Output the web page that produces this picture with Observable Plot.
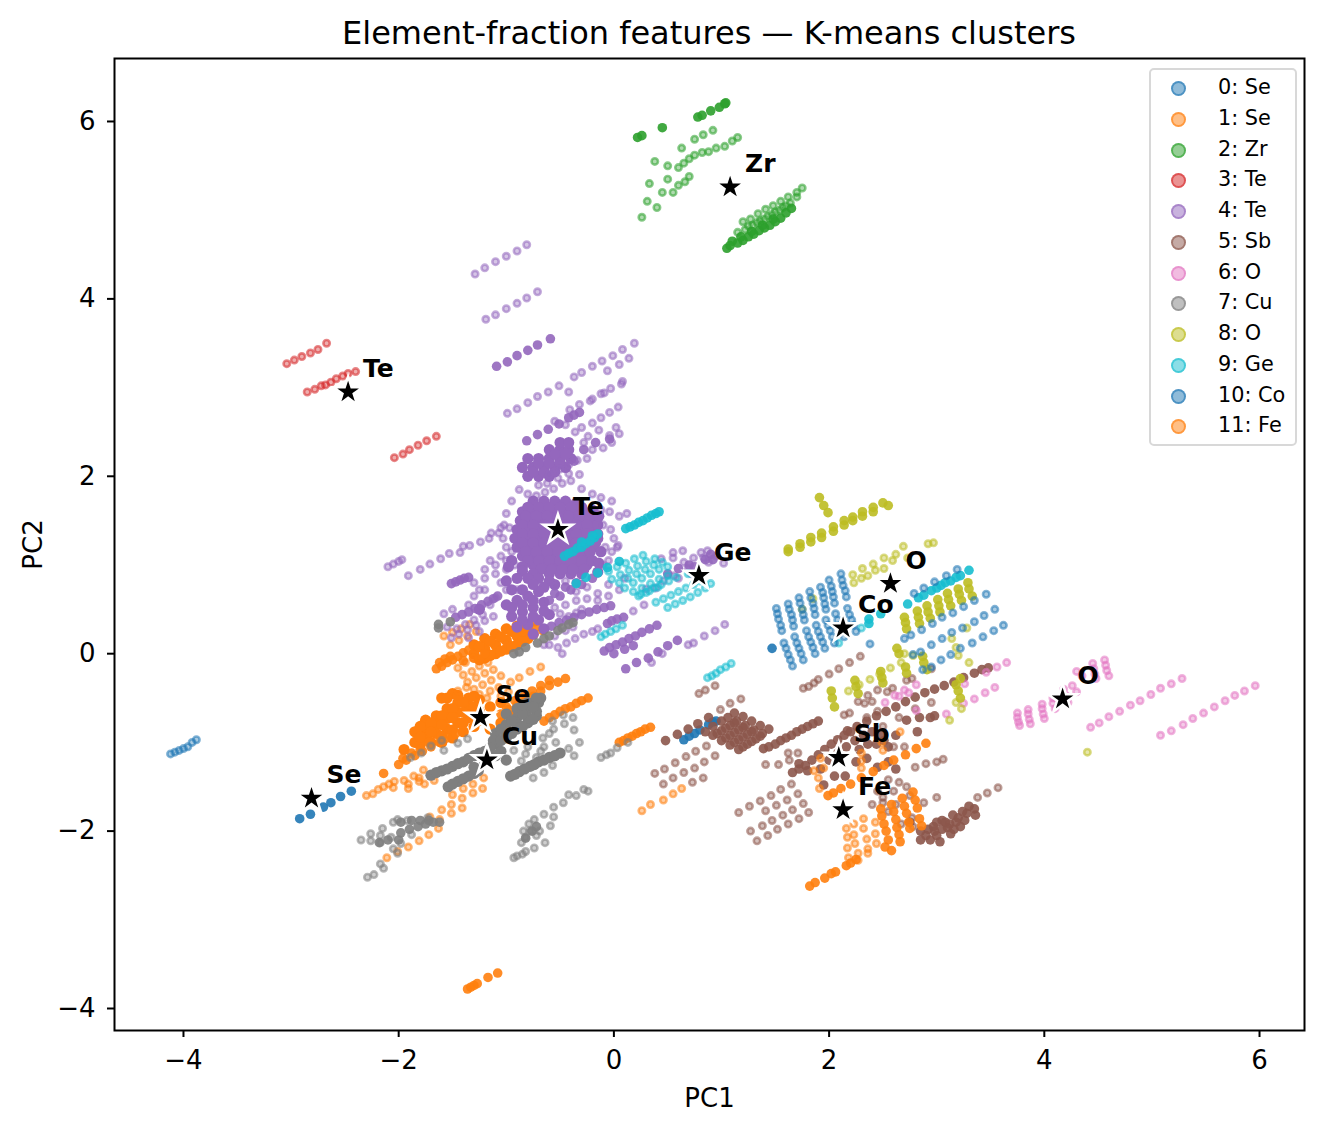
<!DOCTYPE html>
<html><head><meta charset="utf-8">
<script src="https://cdn.jsdelivr.net/npm/d3@7"></script>
<script src="https://cdn.jsdelivr.net/npm/@observablehq/plot@0.6"></script>
<style>
html,body{margin:0;padding:0;background:#fff;overflow:hidden;font-family:"DejaVu Sans",sans-serif}
#wrap{position:relative;width:1324px;height:1132px}
#title{position:absolute;left:114px;width:1190px;top:15px;text-align:center;font-size:32px;line-height:36px;color:#000}
#legend{position:absolute;left:1149px;top:68px;width:144px;height:374px;border:2px solid #d8d8d8;border-radius:5px;background:rgba(255,255,255,.8);box-sizing:content-box}
.row{position:absolute;left:0;height:30px;font-size:20.8px;line-height:30px;color:#000;white-space:nowrap}
.sw{position:absolute;left:20px;top:8px;width:11px;height:11px;border-radius:50%;border:2px solid}
.lb{position:absolute;left:67px;top:-1px}
svg{display:block}
</style></head><body><div id="wrap"><div id="title"></div><div id="legend"></div><div id="plot"></div></div>
<script>
const titleText="Element-fraction features — K-means clusters";
const xLabel="PC1", yLabel="PC2";
const tickX=[-4,-2,0,2,4,6], tickY=[-4,-2,0,2,4,6];
const colors=["#1f77b4","#ff7f0e","#2ca02c","#d62728","#9467bd","#8c564b","#e377c2","#7f7f7f","#bcbd22","#17becf","#1f77b4","#ff7f0e"];
const legendLabels=["0: Se","1: Se","2: Zr","3: Te","4: Te","5: Sb","6: O","7: Cu","8: O","9: Ge","10: Co","11: Fe"];
const centerNames=["Se","Se","Zr","Te","Te","Sb","O","Cu","O","Ge","Co","Fe"];
const centerX=[-2.81,-1.24,1.08,-2.47,-0.52,2.09,4.17,-1.18,2.57,0.79,2.13,2.13];
const centerY=[-1.63,-0.72,5.26,2.95,1.40,-1.17,-0.51,-1.20,0.79,0.88,0.29,-1.76];

const light0=[-4.12,-1.13,-4.08,-1.11,-4.04,-1.09,-4.0,-1.07,-3.96,-1.05,-3.92,-1.0,-3.88,-0.97];
const solid0=[-2.92,-1.86,-2.82,-1.81,-2.7,-1.73,-2.63,-1.68,-2.54,-1.61,-2.44,-1.55,0.65,-0.97,0.7,-0.93,0.75,-0.9,0.8,-0.86,0.88,-0.8,0.92,-0.77,0.95,-0.76];

const light1=[-2.3,-1.6,-2.24,-1.58,-2.19,-1.53,-2.14,-1.5,-2.09,-1.47,-2.04,-1.44,-2.05,-1.51,-1.95,-1.43,-1.91,-1.47,-1.91,-1.52,-1.86,-1.38,-1.81,-1.4,-1.81,-1.44,-1.76,-1.47,-1.77,-1.31,-1.67,-1.43,-1.5,-1.59,-1.4,-1.52,-1.31,-1.47,-1.31,-1.57,-1.41,-1.63,-1.51,-1.7,-1.6,-1.76,-1.41,-1.74,-1.51,-1.8,-1.62,-1.87,-1.71,-1.84,-1.63,-1.97,-1.72,-2.04,-1.81,-2.11,-1.91,-2.18,-2.01,-2.23,-2.11,-2.3,-1.21,-1.4,-1.22,-1.52,-1.45,-0.16,-1.38,-0.1,-1.31,-0.05,-1.4,-0.24,-1.32,-0.2,-1.25,-0.14,-1.17,-0.1,-1.36,-0.32,-1.28,-0.27,-1.2,-0.22,-1.12,-0.18,-1.3,-0.4,-1.22,-0.35,-1.14,-0.3,-1.05,-0.25,-1.45,-0.42,-1.37,-0.38,-1.15,-0.42,-1.07,-0.38,-0.96,-0.32,-0.88,-0.27,-0.78,-0.2,-0.68,-0.15,-1.58,0.2,-1.5,0.24,-1.42,0.28,-1.34,0.33,-1.52,0.1,-1.44,0.15,-1.36,0.2,-1.28,0.25,-1.25,-0.46,-1.18,-0.5,-1.05,-0.48,-0.98,-0.43];
const solid1=[-2.14,-1.35,-2.0,-1.25,-1.93,-1.2,-1.85,-1.15,-1.78,-1.1,-1.7,-1.05,-1.62,-1.0,-1.55,-0.95,-1.47,-0.9,-1.4,-0.87,-1.96,-1.18,-1.88,-1.12,-1.8,-1.08,-1.72,-1.0,-1.65,-0.17,-1.6,-0.14,-1.55,-0.1,-1.5,-0.07,-1.45,-0.03,-1.4,0.01,-1.35,0.04,-1.62,-0.1,-1.57,-0.06,-1.52,-0.03,-1.05,-0.68,-0.98,-0.63,-0.9,-0.58,-0.82,-0.53,-0.75,-0.48,-0.68,-0.42,-0.6,-0.36,-0.52,-0.32,-0.45,-0.28,-1.0,-0.6,-0.92,-0.53,-0.84,-0.48,-0.76,-0.42,-0.68,-0.36,-0.6,-0.3,-0.65,-0.76,-0.6,-0.72,-0.55,-0.69,-0.5,-0.65,-0.45,-0.62,-0.4,-0.6,-0.35,-0.56,-0.3,-0.53,-0.24,-0.5,0.05,-1.0,0.09,-0.98,0.13,-0.95,0.17,-0.93,0.21,-0.9,0.25,-0.88,0.29,-0.85,0.34,-0.83,-1.36,-3.78,-1.33,-3.76,-1.3,-3.74,-1.27,-3.72,-1.17,-3.65,-1.08,-3.6,-1.4,-0.08,-1.3,-0.05,-1.2,0.0,-0.72,0.3,-0.66,0.26,-0.74,0.36];
const mass1=[-1.3,0,-1.2,0.05,-1.1,0.1,-1.0,0.15,-0.9,0.2,-0.8,0.27,-1.2,-0.05,-1.1,0,-1.0,0.05,-0.9,0.1,-0.8,0.17,-1.3,0.1,-1.2,0.17,-1.1,0.22,-1.0,0.28,-0.9,0.31,-1.75,-0.75,-1.65,-0.7,-1.55,-0.62,-1.45,-0.55,-1.35,-0.5,-1.85,-0.88,-1.75,-0.85,-1.65,-0.8,-1.55,-0.73,-1.45,-0.66,-1.35,-0.6,-1.25,-0.52,-1.85,-1.0,-1.75,-0.95,-1.65,-0.9,-1.55,-0.85,-1.45,-0.78,-1.35,-0.72,-1.25,-0.65,-1.6,-1.0,-1.5,-0.95,-1.4,-0.88,-1.3,-0.82,-1.25,-0.75,-1.6,-0.5,-1.5,-0.45,-1.15,-0.85,-1.05,-0.78,-0.95,-0.7,-0.85,-0.64,-1.95,-1.08,-1.8,-1.03,-1.15,-0.6,-1.05,-0.55,-1.8,-0.82,-1.7,-0.78,-1.6,-0.7,-1.5,-0.62,-1.4,-0.55,-1.3,-0.48,-1.8,-0.94,-1.7,-0.88,-1.6,-0.8,-1.5,-0.72,-1.4,-0.66,-1.3,-0.6,-1.7,-1.0,-1.6,-0.93,-1.5,-0.86,-1.4,-0.78,-1.3,-0.7,-1.55,-0.5,-1.45,-0.47,-1.25,-0.07,-1.15,-0.02,-1.05,0.03,-0.95,0.08,-0.85,0.14,-1.25,0.08,-1.15,0.14,-1.05,0.19,-0.95,0.25,-0.85,0.26,-0.75,0.22];

const light2=[0.26,4.92,0.31,5.1,0.33,5.3,0.4,5.03,0.45,5.2,0.5,5.35,0.38,5.55,0.5,5.5,0.55,5.2,0.6,5.28,0.66,5.32,0.7,5.38,0.6,5.48,0.65,5.53,0.7,5.58,0.75,5.62,0.82,5.65,0.88,5.66,0.95,5.7,0.63,5.7,0.75,5.8,0.83,5.85,0.92,5.9,1.03,5.72,1.1,5.78,1.15,5.82,1.15,4.75,1.22,4.78,1.29,4.83,1.36,4.88,1.43,4.93,1.5,4.98,1.57,5.03,1.64,5.08,1.7,5.15,1.2,4.87,1.27,4.9,1.34,4.96,1.41,5.01,1.48,5.05,1.55,5.1,1.62,5.15,1.7,5.2,1.75,5.25,1.25,4.82,1.33,4.86,1.4,4.9,1.47,4.95,1.54,5.0,1.6,5.05];
const solid2=[0.22,5.82,0.26,5.84,0.45,5.93,0.78,6.05,0.82,6.07,0.9,6.12,0.98,6.16,1.03,6.2,1.04,6.21,1.05,4.57,1.08,4.6,1.1,4.65,1.15,4.63,1.2,4.66,1.25,4.7,1.3,4.73,1.35,4.77,1.4,4.8,1.45,4.83,1.5,4.87,1.55,4.91,1.6,4.97,1.65,5.02,1.18,4.7,1.28,4.76,1.38,4.83,1.48,4.9];

const light3=[-3.04,3.27,-2.97,3.31,-2.9,3.35,-2.82,3.39,-2.75,3.43,-2.67,3.5,-2.85,2.95,-2.78,2.98,-2.04,2.21,-1.96,2.25,-1.9,2.3,-1.82,2.35,-1.74,2.4,-1.65,2.45,-2.72,3.02,-2.68,3.03,-2.63,3.06,-2.58,3.1,-2.52,3.13,-2.47,3.16,-2.4,3.18];

const light4=[-1.29,4.28,-1.2,4.35,-1.1,4.42,-1.0,4.48,-0.9,4.54,-0.81,4.61,-1.19,3.77,-1.1,3.82,-1.0,3.89,-0.9,3.95,-0.81,4.01,-0.71,4.08,-0.99,2.71,-0.9,2.76,-0.8,2.83,-0.71,2.9,-0.61,2.95,-0.51,3.02,-0.37,3.12,-0.3,3.17,-0.2,3.24,-0.11,3.3,-0.01,3.36,0.08,3.43,0.19,3.5,-0.42,2.95,-0.06,3.19,0.05,3.26,0.14,3.33,-0.41,2.75,-0.32,2.81,-0.22,2.85,-0.2,2.87,-0.12,2.93,-0.09,2.94,-0.03,2.99,0.07,3.04,0.08,3.07,-0.3,2.55,-0.2,2.6,-0.12,2.66,-0.04,2.72,0.04,2.78,-0.24,2.45,-0.14,2.52,-0.04,2.46,0.02,2.55,0.05,2.48,-0.02,2.38,-0.1,2.32,-0.2,2.3,-0.28,2.38,-0.36,2.5,-0.45,2.58,-0.55,2.62,-0.25,2.2,-0.34,2.18,-0.42,2.13,-0.5,2.08,-0.6,2.02,-0.32,2.02,-0.4,1.95,-0.48,1.92,-0.56,1.86,-0.64,1.82,-0.72,1.78,-0.3,1.86,-0.2,1.8,-0.12,1.76,-0.02,1.72,-0.12,1.62,-0.04,1.6,-2.1,0.98,-2.05,1.01,-2.0,1.04,-1.97,1.06,-1.91,0.88,-1.8,0.95,-1.71,1.01,-1.61,1.07,-1.53,1.13,-1.43,1.14,-1.4,1.21,-1.34,1.22,-1.24,1.26,-1.16,1.3,-1.14,1.36,-1.07,1.36,-1.05,1.42,-0.97,1.42,-1.51,0.18,-1.44,0.22,-1.36,0.27,-1.28,0.32,-1.2,0.37,-1.12,0.42,-1.46,0.28,-1.38,0.33,-1.3,0.38,-1.22,0.44,-0.52,0.07,-0.44,0.12,-0.36,0.17,-0.28,0.22,-0.2,0.25,-0.15,0.28,-0.48,0.0,-0.1,1.0,-0.02,1.15,0.04,1.22,-0.55,0.76,-0.45,0.82,-0.35,0.7,-0.25,0.75,-0.15,0.6,-0.05,0.65,0.55,1.14,0.64,1.16,0.44,1.07,0.55,1.08,0.65,1.03,0.74,1.08,0.81,1.14,0.87,1.16,0.88,1.03,0.83,1.08,0.69,0.96,0.56,0.88,0.46,0.82,0.39,0.74,0.3,0.73,0.69,0.1,0.74,0.12,0.84,0.2,0.94,0.26,1.03,0.33,-0.9,0.72,-1.05,0.8,-1.1,0.9,-1.2,0.72,-1.1,0.63,-1.0,0.72,-1.15,0.55,-0.6,0.1,-0.5,0.45,-0.42,0.42,-0.35,0.46,-0.3,0.5];
const more4=[-1.15,1.05,-1.05,1.1,-1.2,0.95,-1.1,1.0,-1.0,1.05,-0.95,1.15,-1.0,0.95,-0.92,1.0,-0.1,1.45,-0.03,1.4,0.0,1.3,-0.08,1.2,0.03,1.2,-0.05,1.05,0.05,1.55,0.12,1.58,-0.88,1.85,-0.8,1.8,-0.7,1.9,-0.62,1.92,-0.52,1.98,-0.42,2.03,-0.95,1.72,-1.0,1.58,-1.02,1.45,-1.03,1.3,-1.0,1.2,-1.3,0.65,-1.25,0.72,-1.3,0.8,-1.2,0.85,-1.35,0.55,-1.5,0.5,-1.58,0.45,-1.55,0.3,-1.25,0.25,-1.35,0.18,-0.55,0.52,-0.45,0.55,-0.35,0.6,-0.25,0.62,-0.15,0.68,0.35,-0.1,0.45,0.0,0.6,0.85,0.72,0.9,0.95,1.1,1.02,1.02,0.1,0.85,0.05,0.72,-0.05,0.78,-0.55,0.2,-0.45,0.26,-0.38,0.3,-0.65,0.1,0.18,0.48,0.28,0.55];
const solid4=[-1.09,3.24,-0.99,3.29,-0.9,3.36,-0.8,3.42,-0.71,3.48,-0.59,3.55,-0.81,2.4,-0.71,2.47,-0.61,2.53,-0.51,2.59,-0.42,2.66,-0.37,2.69,-0.32,2.72,-0.37,2.17,-0.28,2.3,-0.17,2.38,-0.04,2.42,-1.51,0.79,-1.47,0.81,-1.43,0.83,-1.39,0.85,-1.35,0.86,-1.47,0.41,-1.41,0.44,-1.35,0.47,-1.29,0.51,-1.23,0.55,-1.17,0.59,-1.12,0.62,-1.08,0.65,-0.65,0.28,-0.58,0.31,-0.51,0.35,-0.44,0.38,-0.37,0.41,-0.3,0.44,-0.23,0.47,-0.16,0.5,-0.09,0.52,-0.03,0.54,-0.06,0.34,-0.02,0.37,0.03,0.39,0.09,0.41,-0.09,0.03,-0.04,0.07,0.02,0.1,0.08,0.13,0.14,0.17,0.2,0.2,0.26,0.24,0.33,0.28,0.4,0.32,0.0,0.0,0.1,0.05,0.18,0.09,0.11,-0.17,0.21,-0.1,0.32,-0.05,0.41,0.02,0.5,0.09,0.59,0.15,-0.6,0.6,-0.5,0.65,-0.4,0.72,-0.3,0.78,-0.2,0.85,-0.55,0.68,-0.45,0.75,-0.35,0.8,0.5,0.9,0.6,0.96,0.7,1.0,0.75,0.98,0.85,1.06,0.9,1.12,0.92,1.06];
const mass4=[-0.75,1.72,-0.65,1.72,-0.55,1.72,-0.45,1.72,-0.35,1.7,-0.85,1.6,-0.75,1.6,-0.65,1.6,-0.55,1.6,-0.45,1.6,-0.35,1.6,-0.25,1.58,-0.87,1.5,-0.77,1.5,-0.67,1.5,-0.57,1.5,-0.47,1.5,-0.37,1.5,-0.27,1.5,-0.18,1.48,-0.9,1.4,-0.8,1.4,-0.7,1.4,-0.6,1.4,-0.5,1.4,-0.4,1.4,-0.3,1.4,-0.2,1.4,-0.92,1.3,-0.82,1.3,-0.72,1.3,-0.62,1.3,-0.52,1.3,-0.42,1.3,-0.32,1.3,-0.22,1.3,-0.15,1.3,-0.9,1.2,-0.8,1.2,-0.7,1.2,-0.6,1.2,-0.5,1.2,-0.4,1.2,-0.3,1.2,-0.2,1.2,-0.85,1.1,-0.75,1.1,-0.65,1.1,-0.55,1.1,-0.45,1.1,-0.35,1.1,-0.25,1.1,-0.75,1.0,-0.65,1.0,-0.55,1.0,-0.45,1.0,-0.35,1.0,-0.25,1.0,-0.6,0.9,-0.5,0.9,-0.4,0.9,-0.3,0.9,-0.8,1.65,-0.7,1.65,-0.6,1.65,-0.5,1.65,-0.4,1.65,-0.3,1.65,-0.82,1.55,-0.72,1.55,-0.62,1.55,-0.52,1.55,-0.42,1.55,-0.32,1.55,-0.22,1.55,-0.85,1.45,-0.75,1.45,-0.65,1.45,-0.55,1.45,-0.45,1.45,-0.35,1.45,-0.25,1.45,-0.15,1.45,-0.85,1.35,-0.75,1.35,-0.65,1.35,-0.55,1.35,-0.45,1.35,-0.35,1.35,-0.25,1.35,-0.15,1.35,-0.85,1.25,-0.75,1.25,-0.65,1.25,-0.55,1.25,-0.45,1.25,-0.35,1.25,-0.25,1.25,-0.17,1.25,-0.82,1.15,-0.72,1.15,-0.62,1.15,-0.52,1.15,-0.42,1.15,-0.32,1.15,-0.22,1.15,-0.8,1.05,-0.7,1.05,-0.6,1.05,-0.5,1.05,-0.4,1.05,-0.3,1.05,-0.2,1.05,-0.68,0.95,-0.58,0.95,-0.48,0.95,-0.38,0.95,-0.28,0.95,-0.2,1.62,-0.14,1.55,-0.12,1.15,-0.14,1.02,-0.15,0.92,-0.95,1.05,-0.98,0.98,-0.85,0.98,-0.85,0.93,-0.75,0.9,-0.8,0.85,-0.7,0.85,-0.6,0.82,-0.65,0.75,-0.55,0.78,-0.8,2.0,-0.7,2.0,-0.6,2.0,-0.85,2.1,-0.75,2.1,-0.65,2.1,-0.55,2.1,-0.45,2.1,-0.8,2.2,-0.7,2.2,-0.6,2.2,-0.5,2.2,-0.4,2.2,-0.6,2.3,-0.5,2.3,-0.42,2.3,-0.5,2.38,-0.42,2.38,-0.75,2.05,-0.65,2.05,-0.55,2.05,-0.7,2.15,-0.6,2.15,-0.5,2.15,-0.55,2.25,-0.45,2.25,-1.0,0.55,-0.9,0.6,-0.8,0.65,-0.7,0.7,-0.95,0.42,-0.85,0.47,-0.75,0.52,-0.65,0.58,-0.9,0.3,-0.8,0.33,-0.7,0.38,-0.6,0.44,-0.75,0.22,-0.65,0.28,-0.9,0.85,-1.0,0.82,-0.95,0.72,-1.25,0.5,-0.85,0.72,-0.75,0.78,-0.95,0.52,-0.85,0.55,-0.75,0.6,-0.85,0.38,-0.75,0.42,-0.65,0.48];

const light5=[0.38,-1.35,0.47,-1.3,0.57,-1.23,0.67,-1.16,0.76,-1.1,0.86,-1.04,0.99,-0.63,1.08,-0.56,1.18,-0.51,0.79,-0.45,0.85,-0.41,0.94,-0.36,0.46,-1.47,0.55,-1.4,0.65,-1.34,0.75,-1.29,0.84,-1.22,0.94,-1.15,0.73,-1.45,0.83,-1.4,1.16,-1.79,1.26,-1.72,1.36,-1.66,1.46,-1.6,1.55,-1.53,1.65,-1.47,1.41,-1.77,1.51,-1.71,1.61,-1.65,1.71,-1.58,1.27,-2.0,1.38,-1.94,1.47,-1.88,1.57,-1.82,1.66,-1.76,1.76,-1.69,1.33,-2.11,1.43,-2.05,1.52,-1.98,1.62,-1.92,1.72,-1.86,1.81,-1.79,1.41,-1.25,1.53,-1.25,1.63,-1.2,1.71,-1.12,1.62,-1.12,3.38,-1.62,3.47,-1.57,3.57,-1.51,3.0,-1.62,2.88,-1.68,2.78,-1.95,2.67,-1.92,2.77,-1.85,2.55,-1.78,2.62,-1.7,2.5,-1.68,1.76,-0.39,1.81,-0.37,1.86,-0.33,1.9,-0.29,2.0,-0.23,2.09,-0.17,2.19,-0.1,2.29,-0.03,2.14,-0.69,2.19,-0.67,2.27,-0.54,2.36,-0.47,2.33,-0.56,2.4,-0.54,2.45,-0.41,2.54,-0.43,2.59,-0.39,2.72,-0.3,2.77,-0.28,2.95,-0.17,2.6,-1.05,2.7,-1.05,2.8,-1.28,2.9,-1.24,3.0,-1.22,3.06,-1.19,2.55,-1.42,2.65,-1.45,2.72,-1.5,2.45,-1.55,2.4,-1.7,2.5,-1.62,2.6,-1.55,2.75,-1.6,2.35,-0.72,2.5,-0.82,2.65,-0.72,2.8,-0.62,2.95,-0.55,2.45,-0.65];
const solid5=[0.48,-0.98,0.59,-0.91,0.69,-0.85,0.78,-0.79,0.88,-0.72,1.39,-1.07,1.44,-1.05,1.5,-1.02,1.55,-0.98,1.6,-0.95,1.65,-0.92,1.7,-0.88,1.75,-0.85,1.8,-0.82,1.85,-0.79,1.9,-0.76,2.17,-0.87,2.26,-0.82,2.35,-0.76,2.44,-0.7,2.53,-0.65,2.62,-0.6,2.71,-0.54,2.8,-0.49,2.89,-0.44,2.98,-0.4,3.07,-0.36,3.16,-0.32,3.25,-0.27,3.35,-0.22,3.42,-0.18,3.48,-0.16,2.51,-0.98,2.62,-0.92,2.72,-0.75,2.84,-0.72,2.98,-0.7,2.82,-0.88,2.94,-0.72,0.85,-0.88,0.92,-0.92,1.0,-0.98,1.08,-1.03,1.16,-1.08,0.92,-0.82,1.0,-0.87,1.08,-0.92,1.16,-0.97,1.24,-1.02,1.0,-0.76,1.08,-0.81,1.16,-0.86,1.24,-0.91,1.32,-0.96,1.06,-0.72,1.14,-0.76,1.22,-0.81,1.3,-0.86,1.38,-0.9,1.12,-0.67,1.2,-0.71,1.28,-0.76,1.36,-0.81,1.44,-0.85,0.96,-0.9,1.04,-0.95,1.12,-1.0,1.2,-1.05,1.04,-0.84,1.12,-0.89,1.2,-0.94,1.28,-0.99,1.12,-0.78,1.2,-0.83,1.28,-0.88,1.36,-0.93,1.66,-1.34,1.72,-1.3,1.78,-1.26,1.84,-1.2,1.9,-1.14,1.96,-1.08,2.02,-1.02,2.08,-0.97,2.14,-0.92,2.2,-0.88,1.72,-1.24,1.8,-1.32,1.92,-1.3,2.0,-1.2,2.08,-1.12,2.16,-1.05,2.24,-0.98,2.32,-0.92,2.4,-0.88,2.48,-0.9,2.28,-1.08,2.36,-1.02,2.44,-1.02,2.55,-1.05,2.25,-1.22,2.35,-1.18,2.45,-1.28,2.55,-1.22,2.62,-1.3,2.15,-1.38,2.05,-1.38,1.95,-1.48,2.97,-1.95,3.05,-1.98,3.12,-1.92,3.2,-1.85,3.28,-1.8,3.36,-1.82,3.05,-1.88,3.15,-1.82,3.22,-1.95,3.13,-2.03,2.85,-2.0,2.94,-2.1,3.03,-2.12,2.75,-1.9,2.85,-2.1,2.92,-1.98,3.0,-2.05,3.1,-1.96,3.18,-1.9,3.26,-1.88,3.3,-1.72,3.35,-1.75,3.0,-1.9,3.08,-1.9,3.16,-1.98,3.24,-1.78,2.98,-2.0,2.9,-2.05];
const mass5=[];

const light6=[4.43,-0.83,4.51,-0.78,4.6,-0.71,4.7,-0.65,4.8,-0.58,4.89,-0.53,4.99,-0.46,5.08,-0.39,5.18,-0.34,5.28,-0.28,5.08,-0.92,5.18,-0.87,5.29,-0.8,5.38,-0.73,5.48,-0.67,5.58,-0.6,5.68,-0.53,5.77,-0.47,5.86,-0.42,5.96,-0.36,2.52,-0.55,2.61,-0.47,2.7,-0.41,2.81,-0.35,2.81,-0.64,3.09,-0.68,3.25,-0.56,3.35,-0.51,3.45,-0.44,3.54,-0.38,3.46,-0.21,3.56,-0.15,3.65,-0.1,3.26,-0.34,2.65,-0.48,2.74,-0.44,3.75,-0.67,3.75,-0.72,3.76,-0.77,3.77,-0.81,3.85,-0.63,3.85,-0.68,3.86,-0.74,3.87,-0.79,3.98,-0.57,3.98,-0.62,3.99,-0.68,4.0,-0.73,4.08,-0.5,4.08,-0.56,4.1,-0.62,4.18,-0.4,4.2,-0.47,4.22,-0.55,4.26,-0.36,4.3,-0.43,4.45,-0.11,4.46,-0.17,4.47,-0.23,4.48,-0.28,4.56,-0.07,4.57,-0.13,4.58,-0.19,4.6,-0.25,4.3,-0.2,4.35,-0.25];

const light7=[-0.57,-0.76,-0.47,-0.69,-0.38,-0.72,-0.46,-0.79,-0.37,-0.86,-0.56,-0.85,-0.54,-1.0,-0.65,-1.05,-0.32,-1.0,-0.42,-1.07,-0.37,-1.15,-0.65,-1.34,-0.75,-1.4,-0.57,-1.26,-0.86,-1.21,-0.93,-1.09,-0.82,-1.13,-0.72,-1.17,-0.12,-1.17,-0.07,-1.14,-0.03,-1.12,0.03,-1.06,0.13,-1.0,-2.35,-2.1,-2.26,-2.03,-2.26,-2.11,-2.15,-1.97,-2.17,-2.05,-2.05,-1.9,-2.01,-1.87,-1.92,-1.88,-2.17,-2.13,-2.07,-2.07,-2.05,-2.2,-2.01,-2.25,-2.29,-2.52,-2.23,-2.49,-2.17,-2.37,-2.14,-2.42,-1.73,-1.85,-1.98,-2.14,-1.88,-2.04,-0.93,-2.3,-0.9,-2.28,-0.85,-2.26,-0.82,-2.23,-0.86,-2.13,-0.82,-2.07,-0.84,-2.0,-0.79,-1.92,-0.74,-1.87,-0.74,-2.19,-0.64,-2.13,-0.69,-2.0,-0.59,-1.94,-0.56,-1.84,-0.65,-1.81,-0.56,-1.73,-0.47,-1.68,-0.42,-1.59,-0.35,-1.6,-0.28,-1.53,-0.24,-1.55,-0.72,-2.05,-0.78,-2.0,-1.89,-1.17,-1.79,-1.12,-1.7,-1.04,-1.58,-1.09,-1.45,-1.01,-1.36,-0.96,-1.6,-0.98,-0.66,-0.95,-0.6,-0.9,-0.68,-1.1,-0.8,-1.05];
const solid7=[-1.63,0.29,-1.63,0.33,-1.52,0.36,-0.93,0,-0.88,0.02,-0.82,0.07,-0.71,0.12,-0.65,0.17,-0.6,0.2,-0.52,0.26,-0.48,0.29,-0.38,0.35,-0.42,0.33,-2.0,-2.1,-1.98,-2.02,-1.9,-1.98,-1.82,-1.95,-1.75,-1.92,-1.68,-1.9,-1.98,-1.9,-1.88,-1.88,-1.8,-1.88,-1.72,-1.88,-1.62,-1.9,-2.18,-2.13,-2.1,-2.1,-0.82,-2.08,-0.76,-2.0,-0.72,-1.95];
const mass7=[-1.7,-1.37,-1.6,-1.32,-1.5,-1.27,-1.4,-1.22,-1.3,-1.15,-1.2,-1.1,-1.1,-1.02,-1.0,-0.95,-0.9,-0.85,-0.8,-0.78,-0.72,-0.7,-1.54,-1.5,-1.45,-1.44,-1.35,-1.38,-1.26,-1.32,-1.1,-0.9,-1.0,-0.8,-0.9,-0.72,-0.8,-0.62,-0.7,-0.55,-1.0,-0.9,-0.9,-0.8,-0.8,-0.72,-0.72,-0.65,-0.68,-0.5,-1.12,-0.98,-0.96,-1.38,-0.88,-1.33,-0.78,-1.27,-0.7,-1.22,-0.6,-1.17,-0.5,-1.12,-1.05,-1.1,-1.0,-1.2,-1.1,-1.15,-1.2,-1.22,-1.3,-1.28,-1.0,-0.68,-0.9,-0.62,-0.8,-0.55,-0.72,-0.5,-1.65,-1.34,-1.55,-1.3,-1.45,-1.24,-1.35,-1.18,-1.25,-1.12,-1.15,-1.06,-1.05,-0.98,-0.95,-0.9,-0.85,-0.82,-0.75,-0.74,-0.92,-1.36,-0.83,-1.3,-0.74,-1.25,-0.65,-1.2,-0.55,-1.15,-1.5,-1.47,-1.4,-1.41,-1.3,-1.35,-1.05,-0.85,-0.95,-0.76,-0.85,-0.68,-0.75,-0.6,-0.85,-0.58];

const light8=[2.23,0.8,2.3,0.85,2.36,0.88,2.43,0.94,2.51,0.96,2.22,0.89,2.31,0.96,2.41,1.01,2.51,1.08,2.62,1.12,2.69,1.21,2.59,1.05,2.73,1.08,2.92,1.24,2.97,1.25,2.18,-0.42,2.28,-0.35,2.38,-0.29,2.47,-0.23,2.57,-0.16,2.67,-0.1,2.78,-0.02,3.14,0.17,3.18,0.07,3.2,-0.02,3.3,-0.1,3.28,0.29,2.7,0.0,4.4,-1.11,1.75,0.5,1.85,0.62,3.23,-0.62,3.12,-0.75,3.18,-0.55];
const solid8=[1.62,1.18,1.62,1.15,1.73,1.24,1.73,1.2,1.83,1.31,1.83,1.26,1.93,1.36,1.93,1.31,2.04,1.43,2.04,1.38,2.14,1.5,2.14,1.45,2.22,1.54,2.22,1.5,2.31,1.6,2.31,1.55,2.41,1.65,2.41,1.6,2.5,1.7,2.55,1.67,1.91,1.76,1.95,1.67,1.99,1.59,2.7,0.41,2.71,0.35,2.72,0.28,2.82,0.48,2.83,0.41,2.84,0.34,2.91,0.54,2.92,0.47,2.94,0.4,3.01,0.61,3.02,0.54,3.03,0.47,3.1,0.68,3.11,0.61,3.13,0.54,3.2,0.73,3.21,0.67,3.23,0.6,3.29,0.8,3.3,0.73,3.33,0.65,2.63,0.06,2.65,0.0,2.87,-0.03,2.88,-0.1,2.71,-0.15,2.72,-0.22,2.91,-0.18,2.48,-0.2,2.49,-0.27,2.5,-0.33,2.24,-0.3,2.25,-0.37,2.27,-0.45,2.02,-0.42,2.03,-0.5,2.05,-0.6,3.18,-0.35,3.2,-0.42,3.22,-0.5,3.22,-0.28];

const light9=[-0.05,0.93,0.03,0.98,0.11,1.02,0.19,1.07,0.27,1.11,-0.02,0.84,0.06,0.89,0.14,0.94,0.22,0.99,0.3,1.04,0.38,1.07,0.05,0.8,0.13,0.85,0.21,0.9,0.29,0.95,0.37,1.0,0.45,1.03,0.1,0.74,0.18,0.8,0.26,0.85,0.34,0.9,0.42,0.95,0.5,0.98,0.18,0.7,0.26,0.74,0.34,0.79,0.42,0.84,0.5,0.88,0.25,0.67,0.33,0.71,0.41,0.75,0.23,0.65,0.3,0.69,0.37,0.74,0.44,0.78,0.51,0.82,0.58,0.86,0.69,0.9,0.39,0.58,0.46,0.62,0.53,0.66,0.6,0.7,0.67,0.74,0.74,0.78,0.8,0.82,0.5,0.52,0.57,0.56,0.64,0.6,0.71,0.64,0.78,0.69,0.85,0.74,0.9,0.79,-0.12,0.19,-0.08,0.22,-0.03,0.25,0.02,0.28,0.08,0.32,0.87,-0.27,0.91,-0.25,0.95,-0.22,0.99,-0.18,1.04,-0.15,1.09,-0.11,2.09,0.12,2.3,0.29];
const solid9=[0.11,1.41,0.15,1.43,0.19,1.45,0.23,1.48,0.27,1.5,0.31,1.53,0.35,1.56,0.39,1.58,0.42,1.6,-0.46,1.1,-0.42,1.13,-0.38,1.15,-0.34,1.19,-0.3,1.2,-0.26,1.24,-0.22,1.27,-0.18,1.31,-0.15,1.35,-0.2,1.33,-0.3,1.26,-0.35,0.79,-0.26,0.86,-0.15,0.91,-0.06,0.97,0.05,1.04,2.37,0.39,2.37,0.34,2.48,0.45,2.73,0.56,2.83,0.63,2.95,0.71,3.04,0.77,3.13,0.82,3.22,0.88,3.3,0.94,2.88,0.66,3.0,0.74,3.08,0.8,3.18,0.86];

const light10=[1.51,0.51,1.52,0.45,1.53,0.39,1.55,0.32,1.56,0.26,1.62,0.56,1.63,0.5,1.65,0.44,1.66,0.38,1.67,0.31,1.72,0.63,1.73,0.57,1.75,0.5,1.76,0.44,1.77,0.38,1.82,0.7,1.83,0.63,1.85,0.57,1.86,0.51,1.87,0.44,1.92,0.75,1.94,0.69,1.95,0.63,1.96,0.56,1.97,0.5,2.0,0.83,2.02,0.76,2.03,0.7,2.04,0.64,2.05,0.57,2.11,0.9,2.12,0.83,2.13,0.77,2.15,0.71,2.16,0.64,1.58,0.12,1.6,0.06,1.62,-0.01,1.64,-0.07,1.66,-0.14,1.68,0.19,1.7,0.12,1.72,0.06,1.74,0,1.76,-0.07,1.79,0.26,1.81,0.19,1.83,0.13,1.85,0.07,1.87,0,1.88,0.32,1.9,0.25,1.92,0.19,1.94,0.13,1.96,0.06,1.97,0.38,1.99,0.32,2.01,0.26,2.03,0.19,2.05,0.12,2.06,0.45,2.08,0.38,2.1,0.32,2.12,0.25,2.14,0.19,2.17,0.51,2.19,0.44,2.21,0.38,2.23,0.32,2.25,0.25,2.79,0.68,2.88,0.74,2.98,0.81,3.09,0.88,3.19,0.95,2.7,0.17,2.76,0.21,2.86,0.27,2.96,0.34,3.05,0.41,3.15,0.46,3.25,0.53,3.35,0.6,3.46,0.67,2.78,-0.01,2.85,0.02,2.95,0.1,3.05,0.17,3.14,0.24,3.24,0.29,3.35,0.36,3.44,0.43,3.54,0.5,2.87,-0.18,2.95,-0.15,3.04,-0.07,3.13,-0.01,3.22,0.06,3.33,0.12,3.43,0.19,3.53,0.26,3.62,0.32,2.38,0.11];
const solid10=[1.47,0.06];

const light11=[2.16,-1.97,2.23,-2.04,2.17,-2.07,2.24,-2.14,2.17,-2.19,2.27,-2.25,2.18,-2.3,2.27,-2.33,2.32,-1.86,2.43,-1.9,2.32,-1.97,2.43,-2.03,2.35,-2.09,2.44,-2.14,2.36,-2.2,2.36,-2.25,2.23,-1.92,1.86,-1.32,1.9,-1.4,1.91,-1.52,1.95,-1.29,1.92,-1.18,2.3,-1.12,2.3,-1.21,2.3,-1.29,2.5,-1.09,2.49,-1.0,2.66,-0.88,0.26,-1.77,0.34,-1.7,0.46,-1.65,0.55,-1.58,0.63,-1.52];
const solid11=[1.82,-2.62,1.87,-2.58,1.96,-2.53,2.02,-2.48,2.06,-2.46,2.16,-2.39,2.2,-2.36,2.25,-2.32,1.99,-1.6,2.04,-1.57,2.11,-1.52,2.2,-1.47,2.3,-1.4,2.41,-1.33,2.51,-1.26,2.6,-1.2,2.71,-1.14,2.81,-1.07,2.9,-1.01,2.48,-1.75,2.49,-1.83,2.51,-1.92,2.53,-2.0,2.55,-2.1,2.58,-1.7,2.6,-1.78,2.62,-1.87,2.63,-1.96,2.65,-2.04,2.68,-1.63,2.7,-1.72,2.72,-1.8,2.74,-1.9,2.75,-1.97,2.78,-1.56,2.8,-1.65,2.82,-1.74,2.84,-1.86,2.86,-1.94,2.66,-2.12,2.52,-2.18,2.58,-2.22];
const sets=[[light0,solid0,[]],[light1,solid1,mass1],[light2,solid2,[]],[light3,[],[]],[light4.concat(more4),solid4,mass4],[light5,solid5,mass5],[light6,[],[]],[light7,solid7,mass7],[light8,solid8,[]],[light9,solid9,[]],[light10,solid10,[]],[light11,solid11,[]]];

const pairs=a=>{const o=[];for(let i=0;i<a.length;i+=2)o.push({x:a[i],y:a[i+1]});return o;};
const marks=[];
sets.forEach(([l,s,m],i)=>{
  const c=colors[i];
  marks.push(Plot.dot(pairs(m),{x:"x",y:"y",r:5.6,fill:c}));
  marks.push(Plot.dot(pairs(s),{x:"x",y:"y",r:4.8,fill:c,fillOpacity:.9}));
  marks.push(Plot.dot(pairs(l),{x:"x",y:"y",r:3.2,fill:c,fillOpacity:.38,stroke:c,strokeOpacity:.55,strokeWidth:2.6}));
});
const centers=centerNames.map((n,i)=>({n,x:centerX[i],y:centerY[i]}));
marks.push(Plot.dot(centers,{x:"x",y:"y",symbol:"star",r:6.8,stroke:"#fff",strokeWidth:5,strokeLinejoin:"miter",strokeMiterlimit:10,fill:"#fff"}));
marks.push(Plot.dot(centers,{x:"x",y:"y",symbol:"star",r:6.8,fill:"#000"}));
marks.push(Plot.text(centers,{x:"x",y:"y",text:"n",dx:15,dy:-23,textAnchor:"start",fontSize:25,fontWeight:"bold",fill:"#000",fontFamily:"DejaVu Sans"}));
marks.push(Plot.axisX(tickX,{anchor:"bottom",label:xLabel,labelAnchor:"center",labelArrow:"none",labelOffset:76,tickSize:7,tickPadding:13,fontSize:26,strokeWidth:2,stroke:"#000",color:"#000"}));
marks.push(Plot.axisY(tickY,{anchor:"left",label:yLabel,labelAnchor:"center",labelArrow:"none",labelOffset:91,tickSize:7,tickPadding:12,fontSize:26,strokeWidth:2,stroke:"#000",color:"#000",tickFormat:"d"}));
marks.push(Plot.frame({stroke:"#000",strokeWidth:2}));

const chart=Plot.plot({width:1324,height:1132,marginLeft:114,marginRight:20,marginTop:58,marginBottom:102,
  style:{fontFamily:"DejaVu Sans",background:"#fff",color:"#000",fontSize:"25px"},
  x:{domain:[-4.641,6.418],label:null},y:{domain:[-4.248,6.71],label:null},marks});
document.getElementById("plot").appendChild(chart);
document.getElementById("title").textContent=titleText;
const lg=document.getElementById("legend");
legendLabels.forEach((t,i)=>{
  const r=document.createElement("div");r.className="row";r.style.top=(3+i*30.75)+"px";
  const s=document.createElement("div");s.className="sw";s.style.background=colors[i]+"80";s.style.borderColor=colors[i]+"99";
  const b=document.createElement("div");b.className="lb";b.textContent=t;
  r.append(s,b);lg.append(r);
});
</script></body></html>
